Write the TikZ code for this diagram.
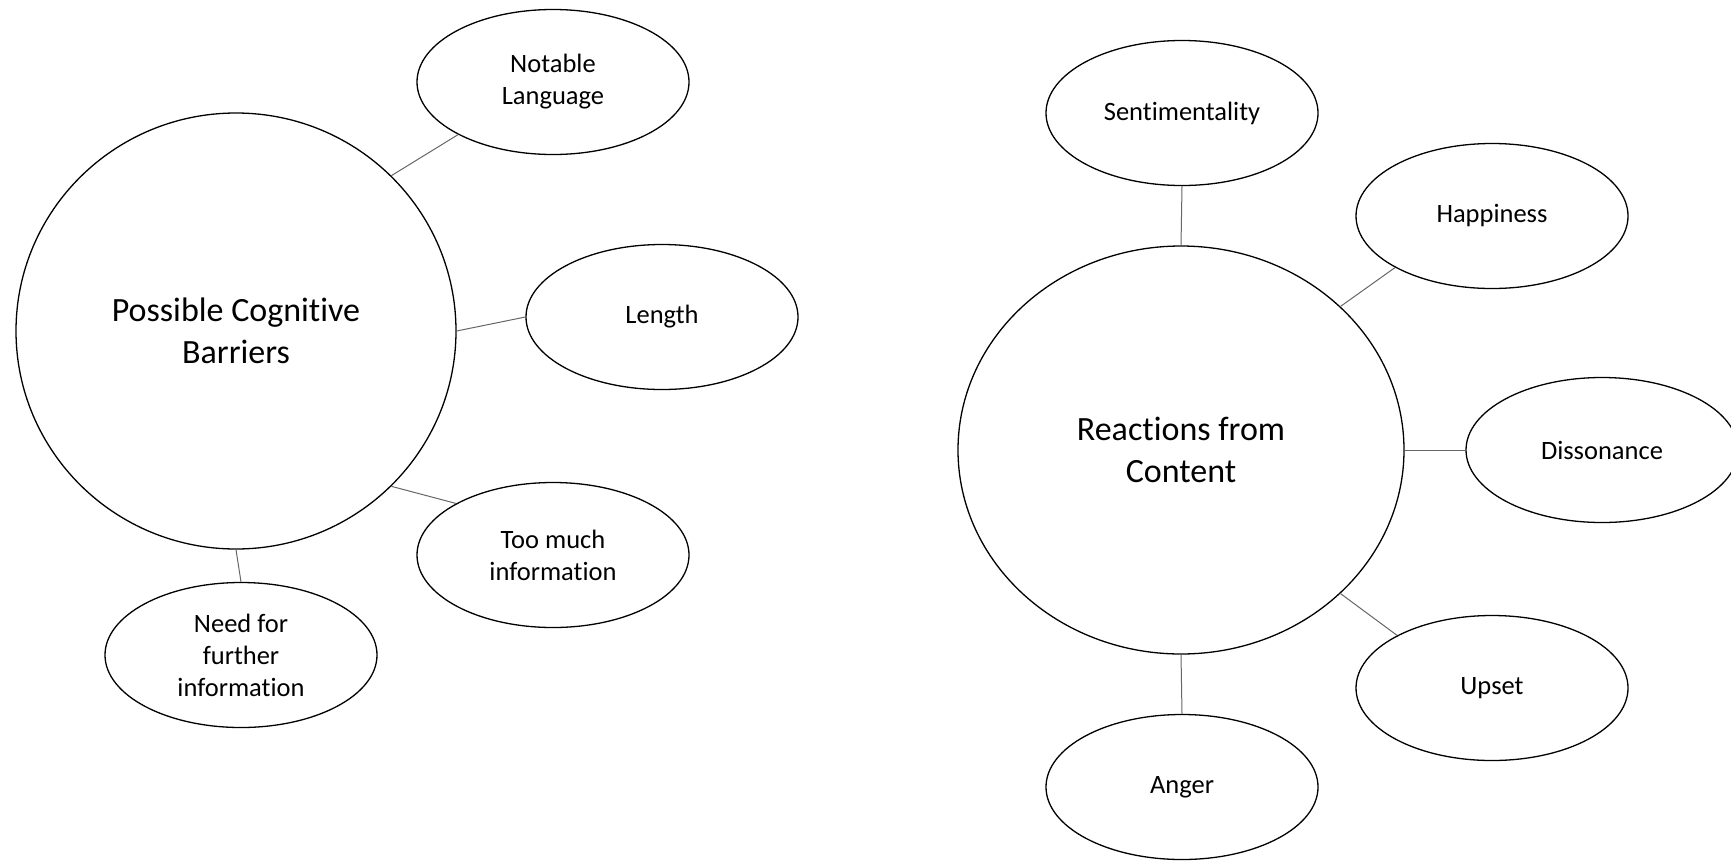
\documentclass[tikz,border=0pt]{standalone}
\usepackage{fontspec}
\setmainfont[Ligatures=NoCommon]{Carlito}
\usetikzlibrary{shapes.geometric}
\tikzset{
  bub/.style={draw=black, line width=1.3pt, ellipse, inner sep=0pt, align=center,
    minimum width=272pt, minimum height=145pt, font=\fontsize{26.5}{32}\selectfont},
  hub/.style={draw=black, line width=1.3pt, ellipse, inner sep=0pt, align=center,
    font=\fontsize{34}{42}\selectfont},
  link/.style={draw=black!60, line width=1pt}
}
\begin{document}
\begin{tikzpicture}[x=1pt,y=-1pt]
\useasboundingbox (0,0) rectangle (1731,860);
% left cluster
\node[hub, minimum width=440pt, minimum height=436pt] (pcb) at (236,331) {Possible Cognitive\\Barriers};
\node[bub] (nl) at (553,82) {Notable\\Language};
\node[bub] (len) at (662,317) {Length};
\node[bub] (tmi) at (553,555) {Too much\\information};
\node[bub] (nfi) at (241,655) {Need for\\further\\information};
\draw[link] (pcb.45) -- (nl.209);
\draw[link] (pcb.0) -- (len.180);
\draw[link] (pcb.-45) -- (tmi.152);
\draw[link] (pcb.-90) -- (nfi.90);
% right cluster
\node[hub, minimum width=446pt, minimum height=408pt] (rfc) at (1181,450) {Reactions from\\Content};
\node[bub] (sen) at (1182,113) {Sentimentality};
\node[bub] (hap) at (1492,216) {Happiness};
\node[bub] (dis) at (1602,450) {Dissonance};
\node[bub] (ups) at (1492,688) {Upset};
\node[bub] (ang) at (1182,787) {Anger};
\draw[link] (rfc.90) -- (sen.-90);
\draw[link] (rfc.42) -- (hap.208);
\draw[link] (rfc.0) -- (dis.180);
\draw[link] (rfc.-42) -- (ups.151);
\draw[link] (rfc.-90) -- (ang.90);
\end{tikzpicture}
\end{document}
